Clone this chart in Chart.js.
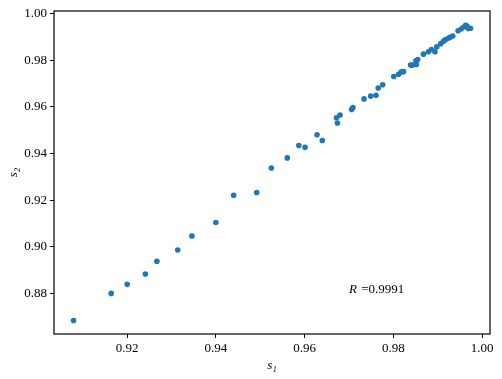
<!DOCTYPE html>
<html>
<head>
<meta charset="utf-8">
<script src="https://cdn.jsdelivr.net/npm/chart.js@4/dist/chart.umd.min.js"></script>
<style>
  html, body { margin: 0; padding: 0; background: #fff; }
  canvas { display: block; }
</style>
</head>
<body>
<canvas id="scatter" width="502" height="379"></canvas>
<script>
// s1 / s2 pairs
const s1 = [0.9079, 0.9164, 0.9200, 0.9241, 0.9267, 0.9314, 0.9346, 0.9400, 0.9440, 0.9492,
            0.9525, 0.9561, 0.9587, 0.9601, 0.9628, 0.9640, 0.9672, 0.9674, 0.9680, 0.9706,
            0.9709, 0.9734, 0.9749, 0.9761, 0.9766, 0.9776, 0.9801, 0.9812, 0.9818, 0.9823,
            0.9839, 0.9843, 0.9852, 0.9851, 0.9855, 0.9868, 0.9879, 0.9886, 0.9894, 0.9898,
            0.9907, 0.9913, 0.9917, 0.9924, 0.9928, 0.9934, 0.9946, 0.9953, 0.9958, 0.9963,
            0.9966, 0.9969, 0.9974];
const s2 = [0.8684, 0.8800, 0.8839, 0.8883, 0.8938, 0.8986, 0.9046, 0.9104, 0.9221, 0.9233,
            0.9338, 0.9381, 0.9434, 0.9427, 0.9480, 0.9456, 0.9553, 0.9531, 0.9565, 0.9589,
            0.9597, 0.9634, 0.9646, 0.9650, 0.9681, 0.9695, 0.9730, 0.9740, 0.9750, 0.9751,
            0.9779, 0.9779, 0.9782, 0.9797, 0.9803, 0.9826, 0.9836, 0.9846, 0.9836, 0.9857,
            0.9871, 0.9881, 0.9887, 0.9894, 0.9898, 0.9904, 0.9926, 0.9934, 0.9941, 0.9950,
            0.9946, 0.9936, 0.9937];

const xTicks = [0.92, 0.94, 0.96, 0.98, 1.00];
const yTicks = [0.88, 0.90, 0.92, 0.94, 0.96, 0.98, 1.00];
const xRange = [0.9035, 1.0018];
const yRange = [0.8626, 1.0011];

// correlation note, placed in data coords
const noteX = 0.97;
const noteY = 0.88;
const noteValue = '=0.9991';

const serif = "'Liberation Serif', 'DejaVu Serif', serif";

// box round the plot + the R text
const framePlugin = {
    id: 'frame',
    afterDraw(chart) {
        const { ctx, chartArea: a, scales } = chart;
        ctx.save();
        ctx.strokeStyle = '#000';
        ctx.lineWidth = 1.2;
        ctx.strokeRect(a.left, a.top, a.right - a.left, a.bottom - a.top);

        const px = scales.x.getPixelForValue(noteX);
        const py = scales.y.getPixelForValue(noteY);
        ctx.fillStyle = '#000';
        ctx.textBaseline = 'alphabetic';
        ctx.textAlign = 'left';
        ctx.font = 'italic 13px ' + serif;
        ctx.fillText('R', px, py);
        const w = ctx.measureText('R ').width;
        ctx.font = '13px ' + serif;
        ctx.fillText(noteValue, px + w + 1, py);
        ctx.restore();
    }
};

function pickTicks(list) {
    return function(scale) {
        scale.ticks = list.map(v => ({ value: v }));
    };
}

new Chart(document.getElementById('scatter'), {
    type: 'scatter',
    data: {
        datasets: [{
            data: s1.map((v, i) => ({ x: v, y: s2[i] })),
            backgroundColor: '#1f77b4',
            borderWidth: 0,
            pointRadius: 2.8
        }]
    },
    options: {
        responsive: false,
        animation: false,
        layout: { padding: { left: 0, right: 12, top: 11, bottom: 0 } },
        plugins: { legend: { display: false }, tooltip: { enabled: false } },
        scales: {
            x: {
                type: 'linear',
                min: xRange[0],
                max: xRange[1],
                afterBuildTicks: pickTicks(xTicks),
                afterFit(scale) { scale.height = 45; },
                border: { display: false },
                grid: { drawOnChartArea: false, drawTicks: true, tickLength: 4, color: '#000', lineWidth: 1 },
                ticks: { color: '#000', padding: 3, font: { family: serif, size: 13 },
                         callback: v => v.toFixed(2) },
                title: { display: true, text: 's₁', color: '#000', padding: { top: 0, bottom: 6 },
                         font: { family: serif, size: 13, style: 'italic' } }
            },
            y: {
                type: 'linear',
                min: yRange[0],
                max: yRange[1],
                afterBuildTicks: pickTicks(yTicks),
                afterFit(scale) { scale.width = 54; },
                border: { display: false },
                grid: { drawOnChartArea: false, drawTicks: true, tickLength: 4, color: '#000', lineWidth: 1 },
                ticks: { color: '#000', padding: 3, font: { family: serif, size: 13 },
                         callback: v => v.toFixed(2) },
                title: { display: true, text: 's₂', color: '#000', padding: { top: 6, bottom: 0 },
                         font: { family: serif, size: 13, style: 'italic' } }
            }
        }
    },
    plugins: [framePlugin]
});
</script>
</body>
</html>
